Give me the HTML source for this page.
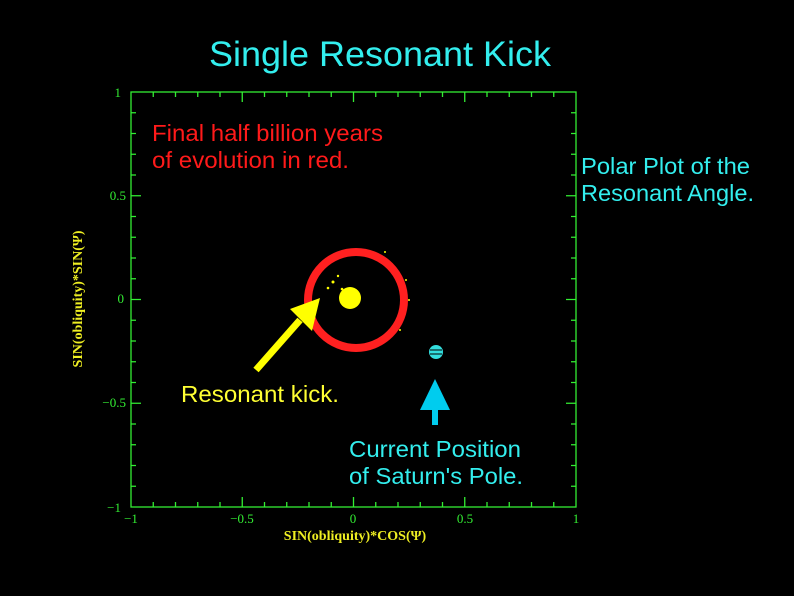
<!DOCTYPE html>
<html><head><meta charset="utf-8"><style>
html,body{margin:0;padding:0;background:#000;width:794px;height:596px;overflow:hidden}
svg{display:block}
</style></head><body>
<svg id="s" width="794" height="596" xmlns="http://www.w3.org/2000/svg">
<rect width="794" height="596" fill="#000"/>
<text x="209" y="66" fill="#33eeee" font-family="Liberation Sans, sans-serif" font-size="35" textLength="342" lengthAdjust="spacingAndGlyphs">Single Resonant Kick</text>
<g id="ticks" stroke="#33ee33" stroke-width="1.3" fill="none">
<rect x="131" y="92" width="445" height="415"/>
</g>
<g fill="#33ee33" font-family="Liberation Serif, serif" font-size="13">
<text x="121" y="97" text-anchor="end">1</text>
<text x="126" y="200" text-anchor="end">0.5</text>
<text x="124" y="303" text-anchor="end">0</text>
<text x="126" y="407" text-anchor="end">−0.5</text>
<text x="121" y="512" text-anchor="end">−1</text>
<text x="131" y="523" text-anchor="middle">−1</text>
<text x="242" y="523" text-anchor="middle">−0.5</text>
<text x="353" y="523" text-anchor="middle">0</text>
<text x="465" y="523" text-anchor="middle">0.5</text>
<text x="576" y="523" text-anchor="middle">1</text>
</g>
<text x="355" y="540" fill="#eeee22" font-family="Liberation Serif, serif" font-size="14" font-weight="bold" text-anchor="middle">SIN(obliquity)*COS(Ψ)</text>
<text transform="translate(82,299) rotate(-90)" fill="#eeee22" font-family="Liberation Serif, serif" font-size="14" font-weight="bold" text-anchor="middle">SIN(obliquity)*SIN(Ψ)</text>
<circle cx="356" cy="300" r="48" fill="none" stroke="#ff2020" stroke-width="8"/>
<circle cx="350" cy="298" r="11" fill="#ffff00"/>
<g fill="#ffff00"><circle cx="333" cy="282" r="1.5"/><circle cx="328" cy="288" r="1.3"/><circle cx="338" cy="276" r="1.2"/><circle cx="342" cy="289" r="1.3"/><circle cx="406" cy="280" r="1"/><circle cx="409" cy="300" r="1"/><circle cx="400" cy="330" r="1"/><circle cx="385" cy="252" r="1"/></g>
<circle cx="436" cy="352" r="7" fill="#33dddd"/>
<path d="M430 350h12M430 354h12" stroke="#000" stroke-width="1"/>
<line x1="256" y1="370" x2="300" y2="320" stroke="#ffff00" stroke-width="7"/>
<polygon points="320,298 290,309 312,331" fill="#ffff00"/>
<polygon points="435,379 420,410 450,410" fill="#00ccee"/>
<rect x="432" y="408" width="6" height="17" fill="#00ccee"/>
<g font-family="Liberation Sans, sans-serif" font-size="23">
<text x="152" y="141" fill="#ff1a1a" textLength="231" lengthAdjust="spacingAndGlyphs">Final half billion years</text>
<text x="152" y="168" fill="#ff1a1a" textLength="197" lengthAdjust="spacingAndGlyphs">of evolution in red.</text>
<text x="581" y="174" fill="#33eeee" textLength="169" lengthAdjust="spacingAndGlyphs">Polar Plot of the</text>
<text x="581" y="201" fill="#33eeee" textLength="173" lengthAdjust="spacingAndGlyphs">Resonant Angle.</text>
<text x="181" y="402" fill="#ffff33" textLength="158" lengthAdjust="spacingAndGlyphs">Resonant kick.</text>
<text x="349" y="457" fill="#33eeee" textLength="172" lengthAdjust="spacingAndGlyphs">Current Position</text>
<text x="349" y="484" fill="#33eeee" textLength="174" lengthAdjust="spacingAndGlyphs">of Saturn's Pole.</text>
</g>
</svg>
<script>
var g=document.getElementById('ticks'),d='';
for(var i=1;i<20;i++){var x=131+i*22.25,L=(i%5==0)?10:5;d+='M'+x+' 507v-'+L+'M'+x+' 92v'+L;}
for(var j=1;j<20;j++){var y=92+j*20.75,L=(j%5==0)?10:5;d+='M131 '+y+'h'+L+'M576 '+y+'h-'+L;}
var p=document.createElementNS('http://www.w3.org/2000/svg','path');p.setAttribute('d',d);g.appendChild(p);
</script>
</body></html>
